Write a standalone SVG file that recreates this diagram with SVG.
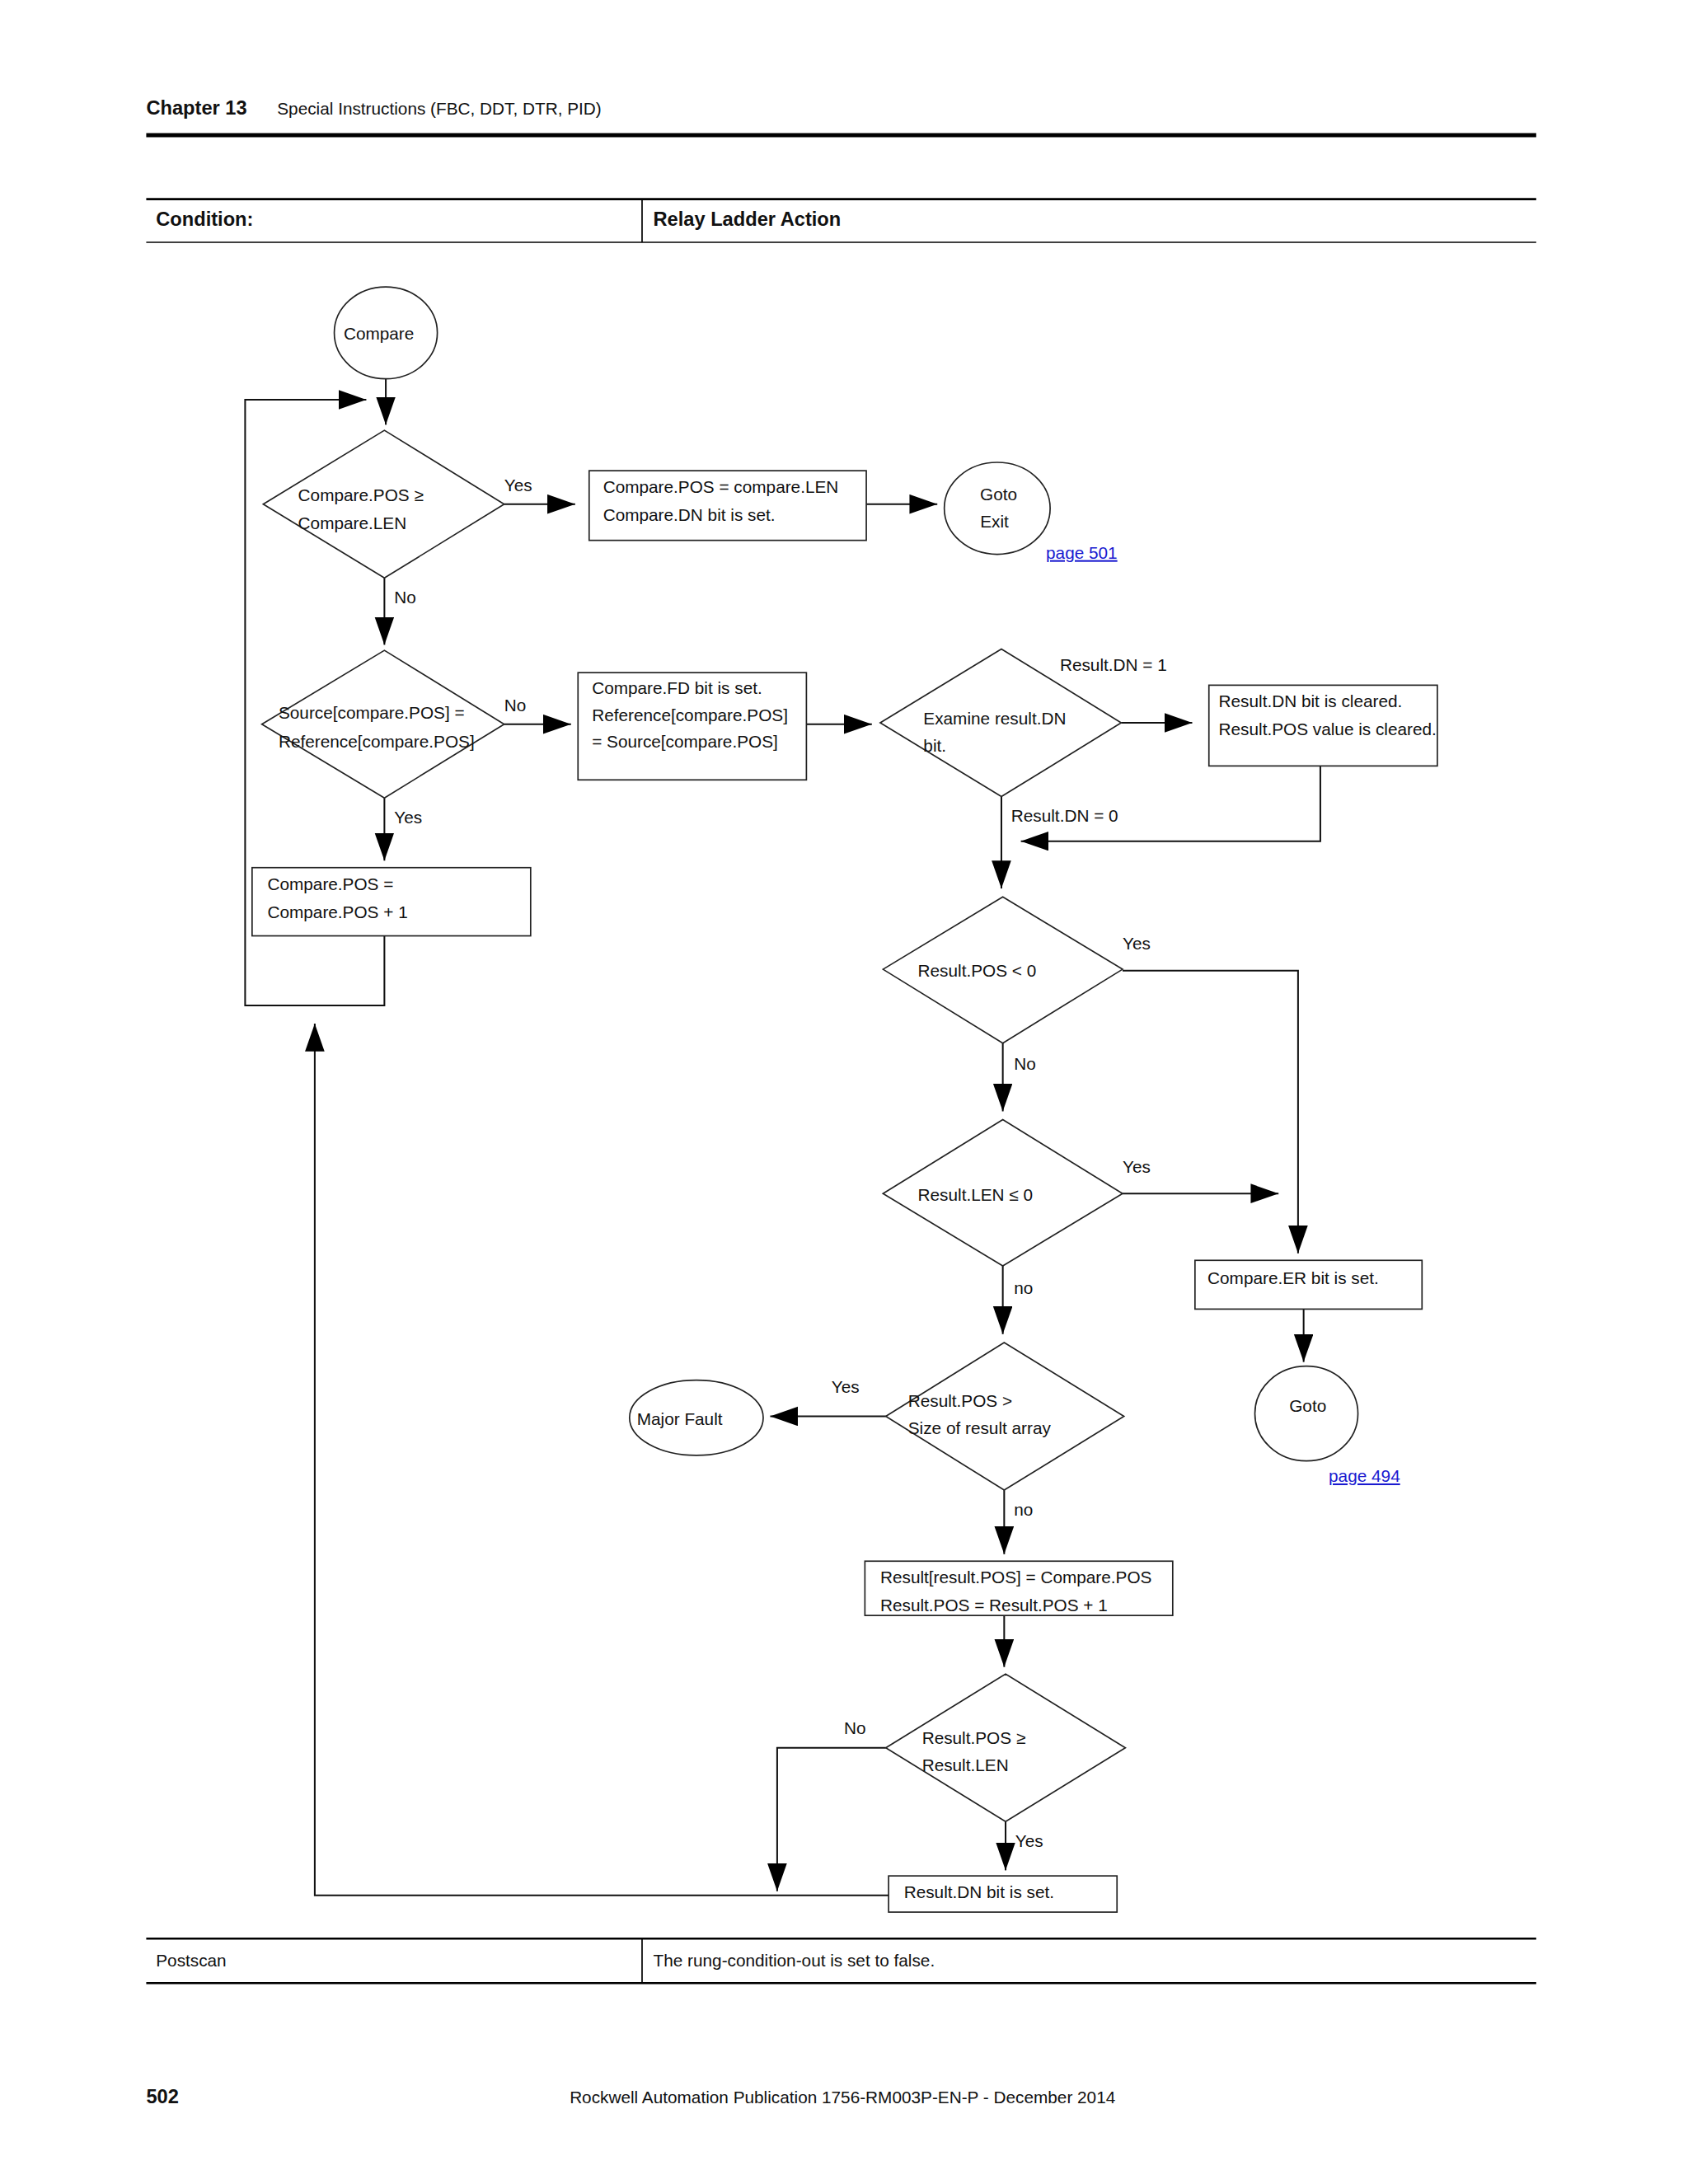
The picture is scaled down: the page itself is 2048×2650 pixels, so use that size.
<svg xmlns="http://www.w3.org/2000/svg" width="2048" height="2650" viewBox="0 0 2048 2650">
<style>
text{font-family:"Liberation Sans","DejaVu Sans",sans-serif;font-size:12.3px;fill:#111}
.b{font-weight:bold;font-size:14px}
.s{fill:#fff;stroke:#222;stroke-width:1}
.c{fill:none;stroke:#111;stroke-width:1.2}
.l{fill:#1a1ad0;text-decoration:underline}
.m{text-anchor:middle}
</style>
<defs><marker id="a" markerUnits="userSpaceOnUse" markerWidth="22" markerHeight="16" refX="20" refY="7" orient="auto"><path d="M0,0L20,7L0,14z" fill="#000"/></marker></defs>
<rect width="2048" height="2650" fill="#fff"/>
<g transform="scale(1.6898)">
<g id="header">
<text x="105" y="82" class="b">Chapter 13</text>
<text x="199" y="82">Special Instructions (FBC, DDT, DTR, PID)</text>
<line x1="105" y1="97" x2="1103" y2="97" stroke="#000" stroke-width="3"/>
<line x1="105" y1="143" x2="1103" y2="143" stroke="#000" stroke-width="1.5"/>
<line x1="105" y1="174" x2="1103" y2="174" stroke="#000" stroke-width="1"/>
<line x1="461" y1="143" x2="461" y2="174" stroke="#000"/>
<text x="112" y="162" class="b">Condition:</text>
<text x="469" y="162" class="b">Relay Ladder Action</text>
<line x1="105" y1="1392" x2="1103" y2="1392" stroke="#000" stroke-width="1.5"/>
<line x1="105" y1="1424" x2="1103" y2="1424" stroke="#000" stroke-width="1.5"/>
<line x1="461" y1="1392" x2="461" y2="1424" stroke="#000"/>
<text x="112" y="1412">Postscan</text>
<text x="469" y="1412">The rung-condition-out is set to false.</text>
<text x="105" y="1510" class="b">502</text>
<text x="409" y="1510">Rockwell Automation Publication 1756-RM003P-EN-P - December 2014</text>
</g>
<g id="connectors">
<path class="c" d="M277,272V305" marker-end="url(#a)"/>
<path class="c" d="M362,362H413" marker-end="url(#a)"/>
<path class="c" d="M622,362H673" marker-end="url(#a)"/>
<path class="c" d="M276,415V463" marker-end="url(#a)"/>
<path class="c" d="M362,520H410" marker-end="url(#a)"/>
<path class="c" d="M579,520H626" marker-end="url(#a)"/>
<path class="c" d="M805,519H856" marker-end="url(#a)"/>
<path class="c" d="M948,550V604H733" marker-end="url(#a)"/>
<path class="c" d="M719,572V638" marker-end="url(#a)"/>
<path class="c" d="M806,697H932V900" marker-end="url(#a)"/>
<path class="c" d="M720,749V798" marker-end="url(#a)"/>
<path class="c" d="M806,857H918" marker-end="url(#a)"/>
<path class="c" d="M720,909V958" marker-end="url(#a)"/>
<path class="c" d="M936,940V978" marker-end="url(#a)"/>
<path class="c" d="M636,1017H553" marker-end="url(#a)"/>
<path class="c" d="M721,1070V1116" marker-end="url(#a)"/>
<path class="c" d="M721,1160V1197" marker-end="url(#a)"/>
<path class="c" d="M636,1255H558V1358" marker-end="url(#a)"/>
<path class="c" d="M722,1308V1343" marker-end="url(#a)"/>
<path class="c" d="M638,1361H226V735" marker-end="url(#a)"/>
<path class="c" d="M276,573V618" marker-end="url(#a)"/>
<path class="c" d="M276,672V722H176V287H263" marker-end="url(#a)"/>
<text x="362" y="353">Yes</text>
<text x="283" y="433">No</text>
<text x="362" y="511">No</text>
<text x="283" y="591">Yes</text>
<text x="761" y="482">Result.DN = 1</text>
<text x="726" y="590">Result.DN = 0</text>
<text x="806" y="682">Yes</text>
<text x="728" y="768">No</text>
<text x="806" y="842">Yes</text>
<text x="728" y="929">no</text>
<text x="597" y="1000">Yes</text>
<text x="728" y="1088">no</text>
<text x="606" y="1245">No</text>
<text x="729" y="1326">Yes</text>
</g>
<g id="compare"><ellipse class="s" cx="277" cy="239" rx="37" ry="33"/><text x="272" y="244" class="m">Compare</text></g>
<g id="d1"><path class="s" d="M189,362L276,309L362,362L276,415z"/><text x="214" y="360">Compare.POS ≥</text><text x="214" y="380">Compare.LEN</text></g>
<g id="b1"><rect class="s" x="423" y="338" width="199" height="50"/><text x="433" y="354">Compare.POS = compare.LEN</text><text x="433" y="374">Compare.DN bit is set.</text></g>
<g id="gotoexit"><ellipse class="s" cx="716" cy="365" rx="38" ry="33"/><text x="717" y="359" class="m">Goto</text><text x="714" y="379" class="m">Exit</text><text x="751" y="401" class="l">page 501</text></g>
<g id="d2"><path class="s" d="M188,520L276,467L362,520L276,573z"/><text x="200" y="516">Source[compare.POS] =</text><text x="200" y="537">Reference[compare.POS]</text></g>
<g id="b2"><rect class="s" x="415" y="483" width="164" height="77"/><text x="425" y="498">Compare.FD bit is set.</text><text x="425" y="518">Reference[compare.POS]</text><text x="425" y="537">= Source[compare.POS]</text></g>
<g id="d3"><path class="s" d="M632,519L719,466L805,519L719,572z"/><text x="663" y="520">Examine result.DN</text><text x="663" y="540">bit.</text></g>
<g id="b3"><rect class="s" x="868" y="492" width="164" height="58"/><text x="875" y="508">Result.DN bit is cleared.</text><text x="875" y="528">Result.POS value is cleared.</text></g>
<g id="bpos"><rect class="s" x="181" y="623" width="200" height="49"/><text x="192" y="639">Compare.POS =</text><text x="192" y="659">Compare.POS + 1</text></g>
<g id="d4"><path class="s" d="M634,696L720,644L806,696L720,749z"/><text x="659" y="701">Result.POS &lt; 0</text></g>
<g id="d5"><path class="s" d="M634,857L720,804L806,857L720,909z"/><text x="659" y="862">Result.LEN ≤ 0</text></g>
<g id="ber"><rect class="s" x="858" y="905" width="163" height="35"/><text x="867" y="922">Compare.ER bit is set.</text></g>
<g id="goto"><ellipse class="s" cx="938" cy="1015" rx="37" ry="34"/><text x="939" y="1014" class="m">Goto</text><text x="954" y="1064" class="l">page 494</text></g>
<g id="d6"><path class="s" d="M636,1017L721,964L807,1017L721,1070z"/><text x="652" y="1010">Result.POS &gt;</text><text x="652" y="1030">Size of result array</text></g>
<g id="fault"><ellipse class="s" cx="500" cy="1018" rx="48" ry="27"/><text x="488" y="1023" class="m">Major Fault</text></g>
<g id="b4"><rect class="s" x="621" y="1121" width="221" height="39"/><text x="632" y="1137">Result[result.POS] = Compare.POS</text><text x="632" y="1157">Result.POS = Result.POS + 1</text></g>
<g id="d7"><path class="s" d="M636,1255L722,1202L808,1255L722,1308z"/><text x="662" y="1252">Result.POS ≥</text><text x="662" y="1272">Result.LEN</text></g>
<g id="b5"><rect class="s" x="638" y="1347" width="164" height="26"/><text x="649" y="1363">Result.DN bit is set.</text></g>
</g>
</svg>
